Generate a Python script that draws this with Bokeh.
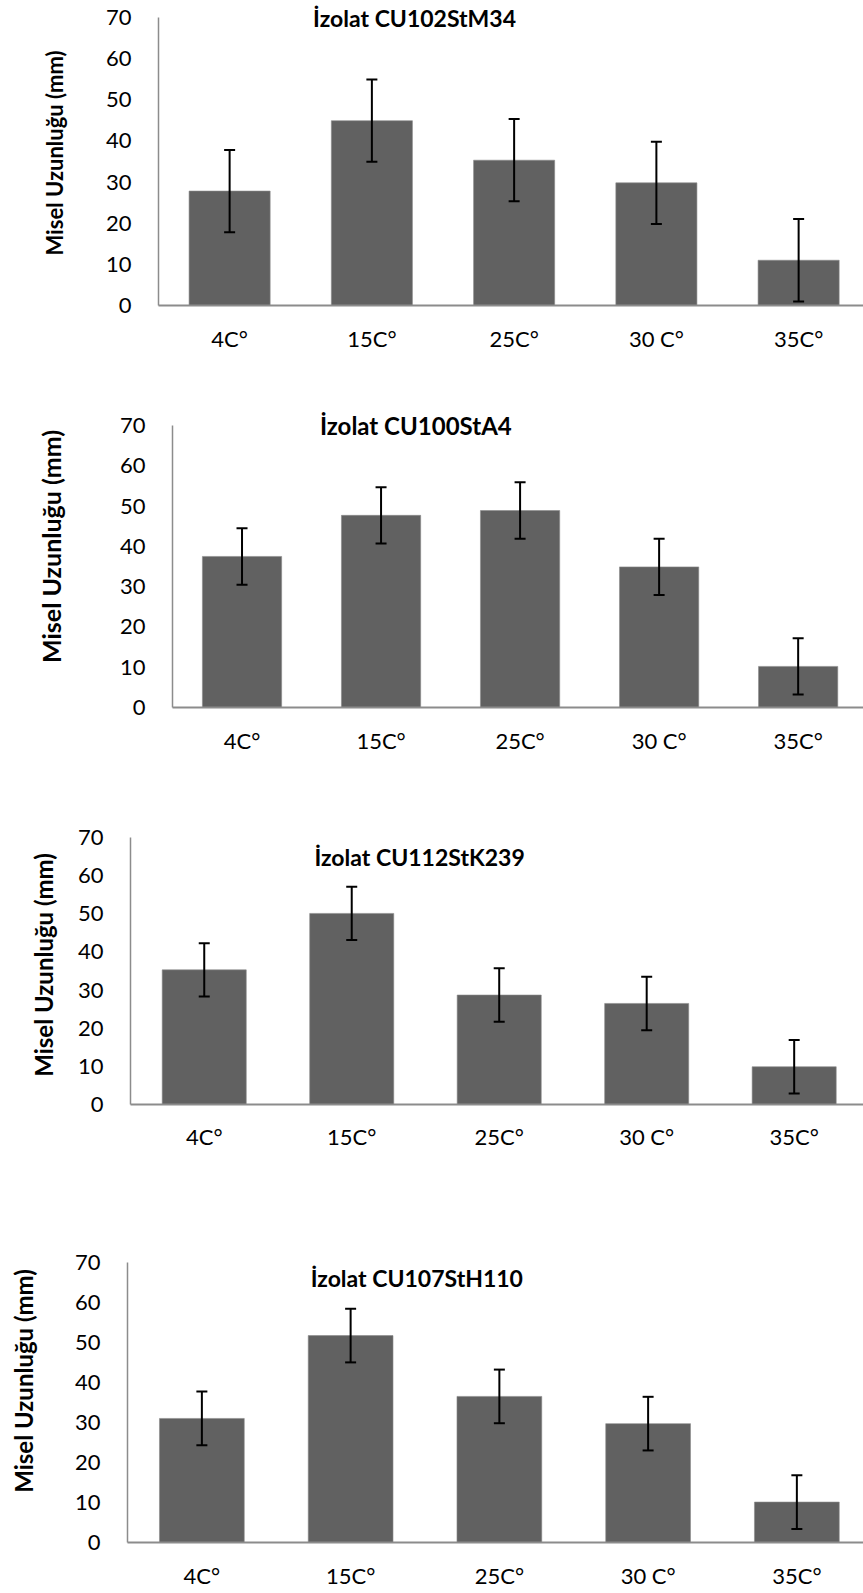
from bokeh.plotting import figure
from bokeh.models import ColumnDataSource, Whisker, TeeHead, Label, FixedTicker, Range1d
from bokeh.embed import file_html
from bokeh.resources import INLINE

# ---------------- data ----------------
categories = ["4C°", "15C°", "25C°", "30 C°", "35C°"]
y_ticks = [0, 10, 20, 30, 40, 50, 60, 70]
y_label = "Misel Uzunluğu (mm)"

title_1 = "İzolat CU102StM34"
mean_1 = [27.8, 44.9, 35.3, 29.8, 11.0]
err_1 = [10.0, 10.0, 10.0, 10.0, 10.0]

title_2 = "İzolat CU100StA4"
mean_2 = [37.5, 47.7, 48.9, 34.9, 10.2]
err_2 = [7.0, 7.0, 7.0, 7.0, 7.0]

title_3 = "İzolat CU112StK239"
mean_3 = [35.3, 50.1, 28.7, 26.5, 9.9]
err_3 = [7.0, 7.0, 7.0, 7.0, 7.0]

title_4 = "İzolat CU107StH110"
mean_4 = [31.0, 51.7, 36.5, 29.7, 10.1]
err_4 = [6.7, 6.7, 6.7, 6.7, 6.7]

charts = [(title_1, mean_1, err_1), (title_2, mean_2, err_2),
          (title_3, mean_3, err_3), (title_4, mean_4, err_4)]

# ---------------- layout (pixels / placement) ----------------
W = 863
layouts = [
    dict(h=375, top=0, fh=305, left=158, xend=4.456, yend=74.1, tx=1.30, ty=69.8,
         xs=19, ls=35, lfs="22px", tfs="23px"),
    dict(h=437, top=10, fh=322, left=172, xend=4.470, yend=79.93, tx=1.25, ty=70.0,
         xs=19, ls=51, lfs="25px", tfs="24px"),
    dict(h=407, top=13, fh=279, left=130, xend=4.470, yend=73.15, tx=1.46, ty=65.0,
         xs=18, ls=17, lfs="24px", tfs="23px"),
    dict(h=372, top=0, fh=324, left=127, xend=4.448, yend=80.7, tx=1.445, ty=66.0,
         xs=19, ls=34, lfs="24px", tfs="23px"),
]

FONT = "Lato"
BAR = "#616161"
AXIS = "#8c8c8c"

figs = []
for (title, mean, err), L in zip(charts, layouts):
    x = list(range(len(categories)))
    src = ColumnDataSource(dict(
        x=x, mean=mean,
        upper=[m + e for m, e in zip(mean, err)],
        lower=[m - e for m, e in zip(mean, err)],
    ))
    p = figure(width=W, height=L["h"], output_backend="svg", toolbar_location=None,
               x_range=Range1d(-0.5, L["xend"]), y_range=Range1d(0, L["yend"]),
               min_border_left=L["left"], min_border_right=0,
               min_border_top=L["top"], min_border_bottom=L["h"] - L["top"] - L["fh"])
    p.outline_line_color = None
    p.grid.visible = False
    p.background_fill_color = "white"
    p.border_fill_color = "white"

    p.vbar(x="x", top="mean", width=0.57, source=src, fill_color=BAR,
           line_color="#8a8a8a", line_width=0.6)
    wh = Whisker(base="x", upper="upper", lower="lower", source=src,
                 line_color="black", line_width=2, level="overlay",
                 upper_head=TeeHead(size=11, line_color="black", line_width=2),
                 lower_head=TeeHead(size=11, line_color="black", line_width=2))
    p.add_layout(wh)

    xa = p.xaxis[0]
    xa.ticker = FixedTicker(ticks=x)
    xa.major_label_overrides = {i: c for i, c in zip(x, categories)}
    xa.major_tick_out = 0
    xa.major_tick_in = 0
    xa.minor_tick_out = 0
    xa.minor_tick_in = 0
    xa.major_label_standoff = L["xs"]
    xa.axis_line_color = AXIS
    xa.axis_line_width = 2
    xa.major_label_text_font = FONT
    xa.major_label_text_font_size = "22px"
    xa.major_label_text_color = "black"

    ya = p.yaxis[0]
    ya.ticker = FixedTicker(ticks=y_ticks)
    ya.bounds = (y_ticks[0], y_ticks[-1])
    ya.major_tick_out = 0
    ya.major_tick_in = 0
    ya.minor_tick_out = 0
    ya.minor_tick_in = 0
    ya.major_label_standoff = 27
    ya.axis_line_color = AXIS
    ya.axis_line_width = 1.5
    ya.major_label_text_font = FONT
    ya.major_label_text_font_size = "22px"
    ya.major_label_text_color = "black"
    ya.axis_label = y_label
    ya.axis_label_standoff = L["ls"]
    ya.axis_label_text_font = FONT
    ya.axis_label_text_font_style = "bold"
    ya.axis_label_text_font_size = L["lfs"]
    ya.axis_label_text_color = "black"

    p.add_layout(Label(x=L["tx"], y=L["ty"], text=title, text_font=FONT,
                       text_font_style="bold", text_font_size=L["tfs"],
                       text_align="center", text_baseline="middle",
                       text_color="black"))
    figs.append(p)

open("out.html", "w").write(file_html(figs, INLINE))
